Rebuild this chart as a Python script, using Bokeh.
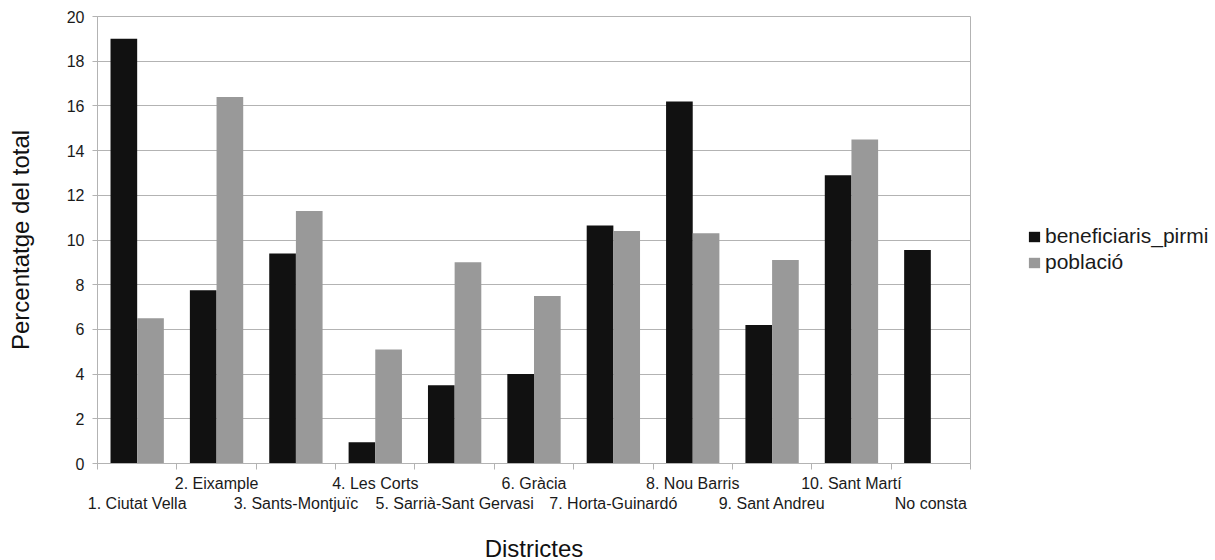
from bokeh.plotting import figure
from bokeh.models import FixedTicker, LinearAxis, Legend, LegendItem, Range1d, ColumnDataSource
from bokeh.transform import dodge
from bokeh.embed import file_html
from bokeh.resources import INLINE

districts = ["1. Ciutat Vella", "2. Eixample", "3. Sants-Montjuïc", "4. Les Corts",
             "5. Sarrià-Sant Gervasi", "6. Gràcia", "7. Horta-Guinardó", "8. Nou Barris",
             "9. Sant Andreu", "10. Sant Martí", "No consta"]
beneficiaris_pirmi = [19.0, 7.75, 9.4, 0.95, 3.5, 4.0, 10.65, 16.2, 6.2, 12.9, 9.55]
poblacio = [6.5, 16.4, 11.3, 5.1, 9.0, 7.5, 10.4, 10.3, 9.1, 14.5, 0.0]
y_ticks = [0, 2, 4, 6, 8, 10, 12, 14, 16, 18, 20]

FONT = "Liberation Sans"
GRID = "#b3b3b3"
TXT = "#1a1a1a"

centers = [i + 0.5 for i in range(len(districts))]
src = ColumnDataSource(dict(x=centers, b=beneficiaris_pirmi, p=poblacio, name=districts))

p = figure(frame_width=873, frame_height=447, x_range=Range1d(0, len(districts)), y_range=Range1d(0, 20),
           output_backend="svg", toolbar_location=None, x_axis_location=None,
           min_border_left=97, min_border_right=0, min_border_top=16, min_border_bottom=0)
p.background_fill_color = "white"
p.border_fill_color = "white"
p.outline_line_color = GRID

r1 = p.vbar(x=dodge("x", -0.168, range=p.x_range), top="b", width=0.336, source=src,
            fill_color="#111111", line_color=None)
r2 = p.vbar(x=dodge("x", 0.168, range=p.x_range), top="p", width=0.336, source=src,
            fill_color="#999999", line_color=None)

# y axis
ya = p.yaxis[0]
ya.ticker = FixedTicker(ticks=y_ticks)
ya.axis_line_color = GRID
ya.major_tick_line_color = GRID
ya.major_tick_out = 5
ya.major_tick_in = 0
ya.minor_tick_line_color = None
ya.major_label_text_font = FONT
ya.major_label_text_font_size = "16px"
ya.major_label_text_color = TXT
ya.major_label_standoff = 8
ya.axis_label = "Percentatge del total"
ya.axis_label_text_font = FONT
ya.axis_label_text_font_size = "24px"
ya.axis_label_text_font_style = "normal"
ya.axis_label_text_color = "#111111"
ya.axis_label_standoff = 30

p.xgrid.grid_line_color = None
p.ygrid.ticker = FixedTicker(ticks=y_ticks)
p.ygrid.grid_line_color = GRID

even_ticks = [centers[i] for i in range(1, len(districts), 2)]
odd_ticks = [centers[i] for i in range(0, len(districts), 2)]

ax1 = LinearAxis(ticker=FixedTicker(ticks=even_ticks, minor_ticks=list(range(len(districts) + 1))),
                 major_label_overrides={c: districts[int(c)] for c in even_ticks})
ax1.axis_line_color = GRID
ax1.major_tick_out = 0
ax1.major_tick_in = 0
ax1.major_tick_line_color = None
ax1.minor_tick_out = 6
ax1.minor_tick_in = 0
ax1.minor_tick_line_color = GRID
ax1.major_label_standoff = 5
ax1.major_label_text_font = FONT
ax1.major_label_text_font_size = "16px"
ax1.major_label_text_color = TXT

ax2 = LinearAxis(ticker=FixedTicker(ticks=odd_ticks, minor_ticks=[]),
                 major_label_overrides={c: districts[int(c)] for c in odd_ticks})
ax2.axis_line_color = None
ax2.major_tick_line_color = None
ax2.minor_tick_line_color = None
ax2.major_tick_out = 0
ax2.major_tick_in = 0
ax2.major_label_standoff = 0
ax2.major_label_text_font = FONT
ax2.major_label_text_font_size = "16px"
ax2.major_label_text_color = TXT
ax2.axis_label = "Districtes"
ax2.axis_label_text_font = FONT
ax2.axis_label_text_font_size = "24px"
ax2.axis_label_text_font_style = "normal"
ax2.axis_label_text_color = "#111111"
ax2.axis_label_standoff = 20

p.add_layout(ax1, "below")
p.add_layout(ax2, "below")

legend = Legend(items=[LegendItem(label="beneficiaris_pirmi", renderers=[r1]),
                       LegendItem(label="població", renderers=[r2])],
                location=(57, 188))
legend.border_line_color = None
legend.background_fill_alpha = 0
legend.padding = 0
legend.margin = 0
legend.spacing = 0
legend.glyph_width = 14
legend.glyph_height = 13
legend.label_height = 26
legend.label_standoff = 4
legend.label_text_font = FONT
legend.label_text_font_size = "21px"
legend.label_text_color = TXT
p.add_layout(legend, "right")

open("out.html", "w").write(file_html(p, INLINE))
